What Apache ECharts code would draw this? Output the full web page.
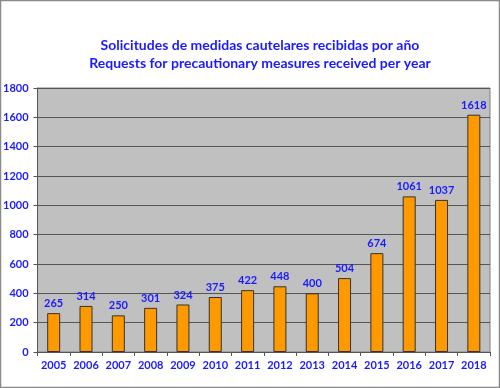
<!DOCTYPE html>
<html><head><meta charset="utf-8">
<script src="https://cdn.jsdelivr.net/npm/echarts@6/dist/echarts.min.js"></script>
<style>html,body{margin:0;padding:0;background:#fff}#c{width:500px;height:388px}</style>
</head><body><div id="c"></div>
<script>
const years = ['2005','2006','2007','2008','2009','2010','2011','2012','2013','2014','2015','2016','2017','2018'];
const requests = [265,314,250,301,324,375,422,448,400,504,674,1061,1037,1618];
const titleLines = ['Solicitudes de medidas cautelares recibidas por año','Requests for precautionary measures received per year'];

const blue = '#1a1aff';
const chart = echarts.init(document.getElementById('c'), null, {renderer:'canvas'});
chart.setOption({
  animation:false,
  backgroundColor:'#fff',
  title:{
    text: titleLines.join('\n'),
    left: 255, top: 31, textAlign:'center',
    textStyle:{color:blue, fontFamily:'Lato', fontWeight:'bold', fontSize:14, lineHeight:18}
  },
  graphic:[{type:'rect', shape:{x:0.5,y:0.5,width:499,height:387}, style:{fill:'none', stroke:'#8a8a8a', lineWidth:1.5}, z:100}],
  grid:{left:35, right:10, top:88, bottom:36, show:true, backgroundColor:'#c0c0c0', borderColor:'#808080', borderWidth:1},
  xAxis:{
    type:'category', data:years,
    axisLine:{lineStyle:{color:'#555', width:1}},
    axisTick:{show:true, length:4, interval:0, lineStyle:{color:'#555'}},
    axisLabel:{color:blue, fontFamily:'Lato', fontWeight:'bold', fontSize:11, margin:8, interval:0}
  },
  yAxis:{
    type:'value', min:0, max:1800, interval:200,
    axisLine:{show:true, lineStyle:{color:'#555'}},
    axisTick:{show:true, length:4, lineStyle:{color:'#555'}},
    splitLine:{lineStyle:{color:'#555', width:1}},
    axisLabel:{color:blue, fontFamily:'Lato', fontWeight:'bold', fontSize:11, margin:9, formatter:v=>String(v)}
  },
  series:[{
    type:'bar', data:requests, barWidth:13,
    itemStyle:{color:'#ff9900', borderColor:'#333', borderWidth:1},
    label:{show:true, position:'top', distance:4, color:blue, fontFamily:'Lato', fontWeight:'bold', fontSize:11}
  }]
});
</script></body></html>
